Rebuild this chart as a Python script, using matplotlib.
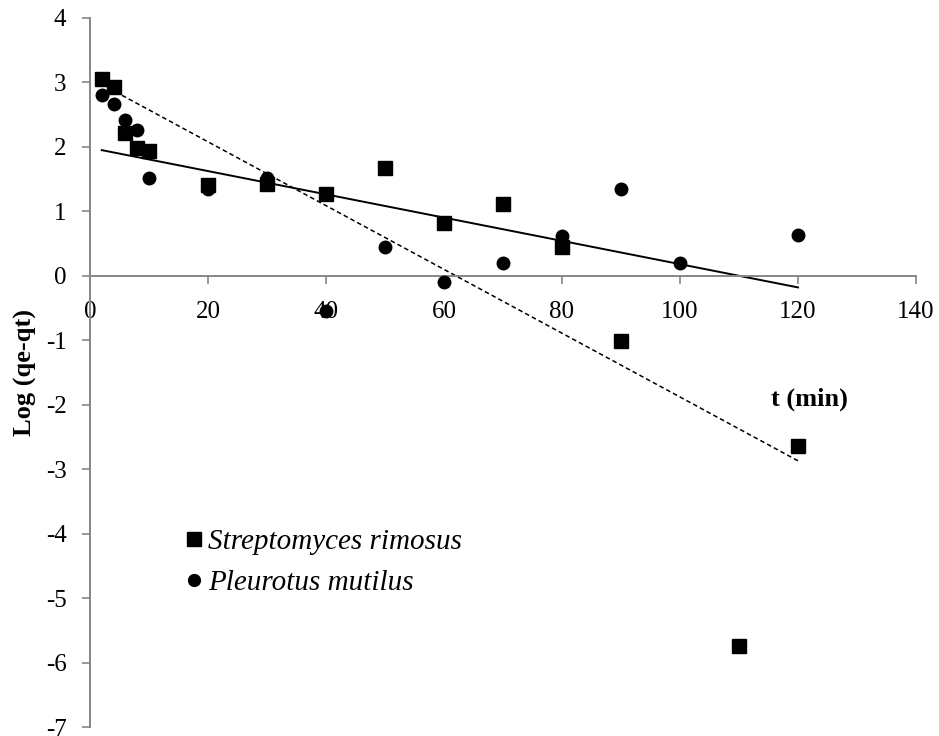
import matplotlib
matplotlib.use("Agg")
import matplotlib.pyplot as plt
from matplotlib.lines import Line2D

# data
t_rimosus = [2, 4, 6, 8, 10, 20, 30, 40, 50, 60, 70, 80, 90, 110, 120]
log_rimosus = [3.06, 2.93, 2.21, 1.99, 1.93, 1.41, 1.43, 1.27, 1.68, 0.82, 1.11, 0.44, -1.01, -5.75, -2.64]

t_mutilus = [2, 4, 6, 8, 10, 20, 30, 40, 50, 60, 70, 80, 90, 100, 120]
log_mutilus = [2.80, 2.67, 2.41, 2.27, 1.51, 1.34, 1.51, -0.55, 0.44, -0.10, 0.20, 0.62, 1.34, 0.20, 0.63]

# trend lines (end points)
fit_t = [2, 120]
fit_rimosus = [2.97, -2.87]
fit_mutilus = [1.95, -0.18]

x_ticks = [0, 20, 40, 60, 80, 100, 120, 140]
y_ticks = [-7, -6, -5, -4, -3, -2, -1, 0, 1, 2, 3, 4]

plt.rcParams["font.family"] = ["Liberation Serif", "DejaVu Serif"]
plt.rcParams["axes.unicode_minus"] = False
axis_grey = "#868686"

fig = plt.figure(figsize=(9.39, 7.36), dpi=100)
ax = fig.add_axes([90 / 939, 1 - 727 / 736, 826 / 939, 709 / 736])

ax.plot(fit_t, fit_rimosus, color="black", lw=1.1, ls=(0, (3, 2)), zorder=2)
ax.plot(fit_t, fit_mutilus, color="black", lw=1.4, zorder=2)
ax.plot(t_rimosus, log_rimosus, ls="none", marker="s", ms=10, color="black", zorder=3)
ax.plot(t_mutilus, log_mutilus, ls="none", marker="o", ms=9, color="black", zorder=3)

ax.set_xlim(0, 140)
ax.set_ylim(-7, 4)
ax.set_xticks(x_ticks)
ax.set_yticks(y_ticks)

ax.spines["left"].set_position(("data", 0))
ax.spines["bottom"].set_position(("data", 0))
for s in ["top", "right"]:
    ax.spines[s].set_visible(False)
for s in ["left", "bottom"]:
    ax.spines[s].set_color(axis_grey)
    ax.spines[s].set_linewidth(1.4)

ax.tick_params(axis="both", direction="out", length=6, width=1.2,
               color=axis_grey, labelsize=18, labelcolor="black")
ax.tick_params(axis="x", pad=12)
ax.tick_params(axis="y", pad=11)

# y label placed in figure pixels, like the reference
fig.text(25 / 939, 1 - 372 / 736, "Log (qe-qt)", fontsize=19, fontweight="bold",
         rotation=90, ha="center", va="center")

ax.text(122, -1.92, "t (min)", fontsize=19, fontweight="bold", ha="center", va="center")

handles = [
    Line2D([], [], ls="none", marker="s", ms=9.5, color="black"),
    Line2D([], [], ls="none", marker="o", ms=8.5, color="black"),
]
ax.legend(handles, ["Streptomyces rimosus", "Pleurotus mutilus"],
          loc="upper left", bbox_to_anchor=(186 / 939, 1 - 529 / 736),
          bbox_transform=fig.transFigure, frameon=False,
          prop={"family": "Liberation Serif", "style": "italic", "size": 21},
          handlelength=0.55, handletextpad=0.2, labelspacing=0.5,
          borderpad=0, borderaxespad=0)

fig.savefig("out.png", dpi=100)
